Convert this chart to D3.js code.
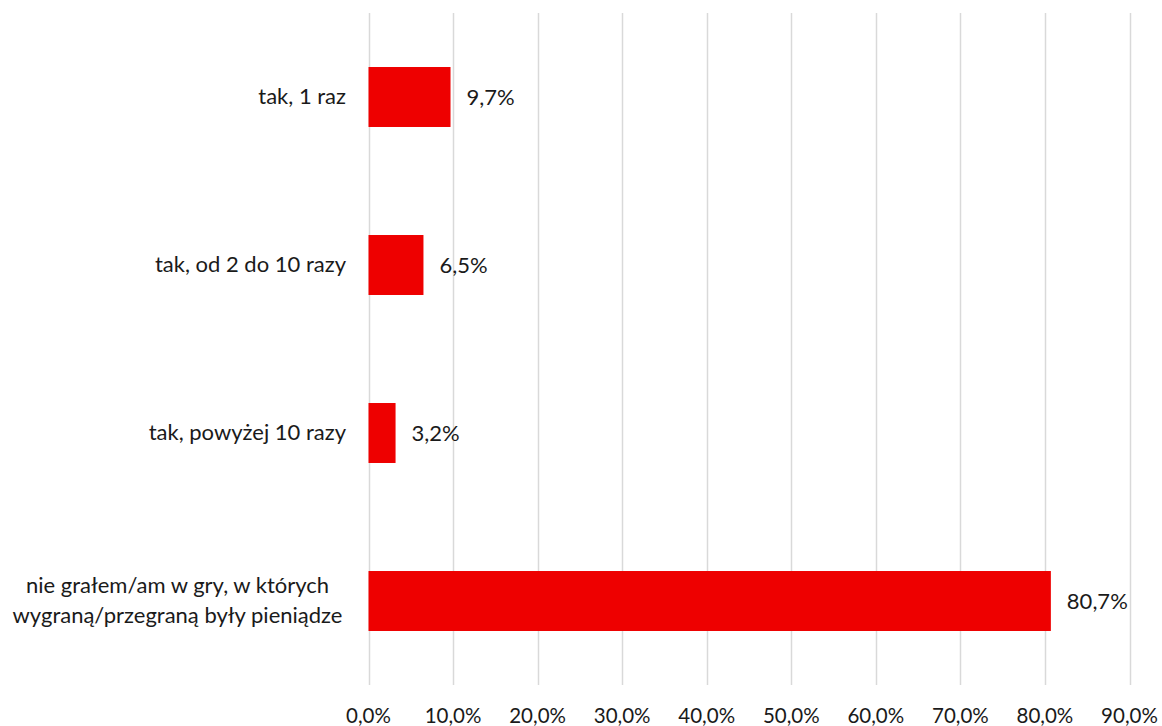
<!DOCTYPE html>
<html><head><meta charset="utf-8">
<script src="https://d3js.org/d3.v7.min.js"></script>
<style>body{margin:0;background:#fff}svg{display:block}text{font-family:Lato,"Open Sans",sans-serif;fill:#1a1a1a}</style>
</head><body><svg id="c" width="1162" height="726"></svg>
<script>
const categories = ["tak, 1 raz", "tak, od 2 do 10 razy", "tak, powyżej 10 razy", "nie grałem/am w gry, w których\nwygraną/przegraną były pieniądze"];
const values = [9.7, 6.5, 3.2, 80.7];
const valueLabels = ["9,7%", "6,5%", "3,2%", "80,7%"];
const ticks = [0, 10, 20, 30, 40, 50, 60, 70, 80, 90];
const tickLabels = ["0,0%", "10,0%", "20,0%", "30,0%", "40,0%", "50,0%", "60,0%", "70,0%", "80,0%", "90,0%"];

const svg = d3.select("#c");
const x = d3.scaleLinear().domain([0, 90]).range([368.5, 1129.5]);
const y = d3.scaleBand().domain(categories).range([13, 685]).paddingInner(0.643).paddingOuter(0.3215);

svg.append("g").selectAll("line").data(ticks).join("line")
  .attr("x1", d => Math.round(x(d)) + 0.5).attr("x2", d => Math.round(x(d)) + 0.5)
  .attr("y1", 13).attr("y2", 685).attr("stroke", "#d9d9d9").attr("stroke-width", 1.5);

svg.append("g").selectAll("text").data(ticks).join("text")
  .attr("x", d => x(d)).attr("y", 723).attr("text-anchor", "middle")
  .attr("font-size", 20.5).text((d, i) => tickLabels[i]);

svg.append("g").selectAll("rect").data(values).join("rect")
  .attr("x", x(0)).attr("y", (d, i) => y(categories[i]))
  .attr("width", d => x(d) - x(0)).attr("height", y.bandwidth())
  .attr("fill", "#ee0000");

svg.append("g").selectAll("text").data(values).join("text")
  .attr("x", d => x(d) + 16).attr("y", (d, i) => y(categories[i]) + y.bandwidth() / 2 + 8)
  .attr("font-size", 22).text((d, i) => valueLabels[i]);

const cl = svg.append("g").selectAll("text").data(categories).join("text")
  .attr("font-size", 22)
  .attr("y", d => y(d) + y.bandwidth() / 2 + 7);
cl.each(function(d) {
  const lines = d.split("\n");
  const t = d3.select(this);
  const multi = lines.length > 1;
  t.attr("text-anchor", multi ? "middle" : "end");
  lines.forEach((l, i) => {
    t.append("tspan").attr("x", multi ? 177.5 : 346).attr("dy", i === 0 ? (-(lines.length - 1) * 30 / 2) : 30).text(l);
  });
});
</script></body></html>
